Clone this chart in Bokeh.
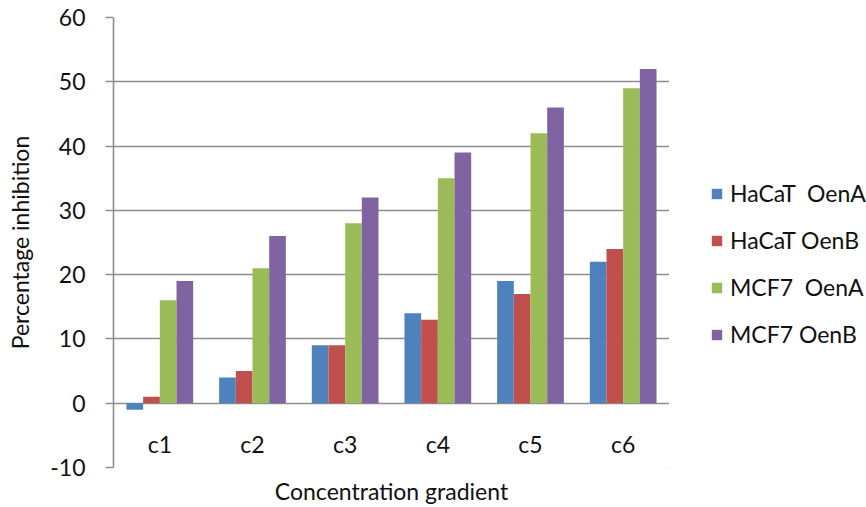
from bokeh.plotting import figure
from bokeh.models import (FactorRange, FixedTicker, Legend, LegendItem, ColumnDataSource)
from bokeh.layouts import row
from bokeh.transform import dodge
from bokeh.core.properties import value
from bokeh.embed import file_html
from bokeh.resources import INLINE

categories = ["c1", "c2", "c3", "c4", "c5", "c6"]
series_names = ["HaCaT  OenA", "HaCaT OenB", "MCF7  OenA", "MCF7 OenB"]
hacat_oena = [-1, 4, 9, 14, 19, 22]
hacat_oenb = [1, 5, 9, 13, 17, 24]
mcf7_oena = [16, 21, 28, 35, 42, 49]
mcf7_oenb = [19, 26, 32, 39, 46, 52]
y_ticks = [-10, 0, 10, 20, 30, 40, 50, 60]

colors = ["#4F81BD", "#C0504D", "#9BBB59", "#8064A2"]
offsets = [-0.27, -0.09, 0.09, 0.27]
FONT = "Lato"
FS = "23px"
TXT = "#111111"

src = ColumnDataSource(dict(cat=categories, s0=hacat_oena, s1=hacat_oenb,
                            s2=mcf7_oena, s3=mcf7_oenb,
                            ly=[-6.4] * len(categories)))

p = figure(width=669, height=507, x_range=FactorRange(*categories, range_padding=0),
           y_range=(-10, 60), output_backend="svg", toolbar_location=None,
           min_border_left=113, min_border_right=0, min_border_top=17,
           min_border_bottom=35)
p.outline_line_color = None
p.background_fill_color = "white"
p.border_fill_color = "white"

p.xgrid.grid_line_color = None
p.ygrid.ticker = FixedTicker(ticks=y_ticks)
p.ygrid.grid_line_color = "#8e8e8e"
p.ygrid.grid_line_width = 1.6

yax = p.yaxis[0]
yax.ticker = FixedTicker(ticks=y_ticks)
yax.major_label_overrides = {t: str(t) for t in y_ticks}
yax.axis_line_color = "#8e8e8e"
yax.axis_line_width = 1.6
yax.major_tick_line_color = "#8e8e8e"
yax.major_tick_line_width = 1.6
yax.major_tick_out = 8
yax.major_tick_in = 0
yax.minor_tick_line_color = None
yax.major_label_standoff = 20
yax.major_label_text_font = FONT
yax.major_label_text_font_size = FS
yax.major_label_text_color = TXT
yax.axis_label = "Percentage inhibition"
yax.axis_label_text_font = FONT
yax.axis_label_text_font_size = FS
yax.axis_label_text_font_style = "normal"
yax.axis_label_text_color = TXT
yax.axis_label_standoff = 13

xax = p.xaxis[0]
xax.axis_line_color = None
xax.major_tick_line_color = None
xax.minor_tick_line_color = None
xax.major_label_text_alpha = 0
xax.major_label_text_font_size = "1px"
xax.major_label_standoff = 0
xax.axis_label = "Concentration gradient"
xax.axis_label_text_font = FONT
xax.axis_label_text_font_size = FS
xax.axis_label_text_font_style = "normal"
xax.axis_label_text_color = TXT
xax.axis_label_standoff = 3

renderers = []
for i, key in enumerate(["s0", "s1", "s2", "s3"]):
    r = p.vbar(x=dodge("cat", offsets[i], range=p.x_range), top=key, bottom=0,
               width=0.18, source=src, fill_color=colors[i], line_color=None)
    renderers.append(r)

p.text(x="cat", y="ly", text="cat", source=src, text_font=value(FONT),
       text_font_size=FS, text_align="center", text_baseline="middle",
       text_color=TXT)

# legend panel (swatch renderers sit outside the visible range)
lg = figure(width=197, height=507, x_range=(0, 1), y_range=(0, 1),
            output_backend="svg", toolbar_location=None,
            min_border_left=0, min_border_right=0, min_border_top=0, min_border_bottom=0)
lg.axis.visible = False
lg.grid.grid_line_color = None
lg.outline_line_color = None
lg.border_fill_color = "white"
dummy = ColumnDataSource(dict(x=[-5.0], top=[-5.0]))
lg_renderers = [lg.vbar(x="x", top="top", bottom=-6, width=0.1, source=dummy,
                        fill_color=c, line_color=None) for c in colors]

legend = Legend(items=[LegendItem(label=n, renderers=[r]) for n, r in zip(series_names, lg_renderers)],
                location=(41, 119), orientation="vertical",
                glyph_width=13, glyph_height=13, label_standoff=7, spacing=19,
                label_height=20, padding=0, margin=0,
                label_text_font=FONT, label_text_font_size=FS,
                label_text_color=TXT, border_line_color=None,
                background_fill_alpha=0)
lg.add_layout(legend)

layout = row(p, lg, spacing=0)
open("out.html", "w").write(file_html(layout, INLINE))
